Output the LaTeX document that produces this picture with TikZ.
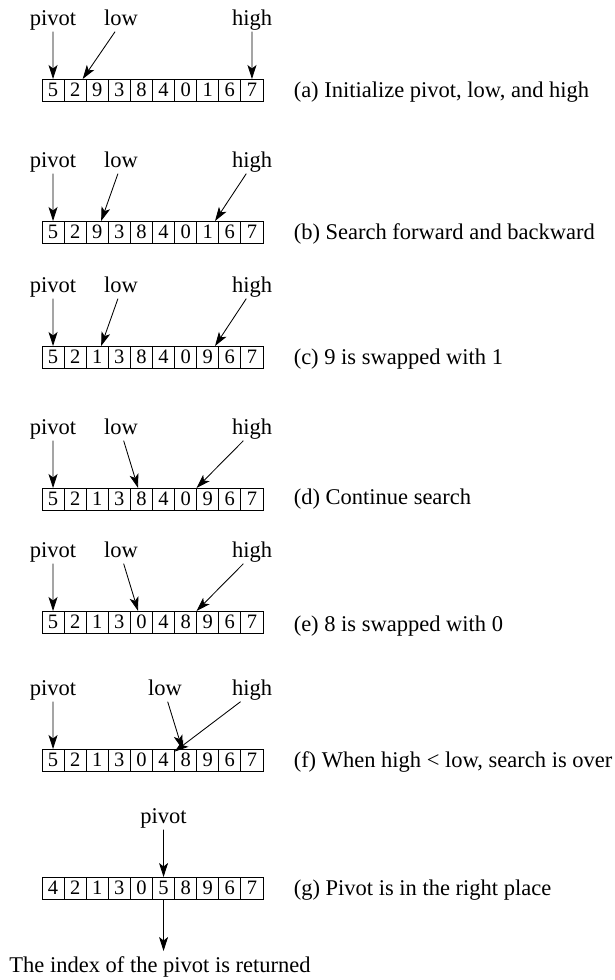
\documentclass[tikz,border=0pt]{standalone}
\usepackage{fontspec}
\setmainfont{Liberation Serif}
\usetikzlibrary{arrows.meta}

\begin{document}
\begin{tikzpicture}[x=1pt,y=-1pt,line width=0.85pt,
  font=\fontsize{22.5}{27}\selectfont,
  ptr/.style={-{Stealth[length=14pt,width=9pt,inset=3.5pt]}},
  cell/.style={draw,minimum width=22.1pt,minimum height=22pt,inner sep=0pt,
    outer sep=0pt,font=\fontsize{20.5}{24}\selectfont},
  tag/.style={inner sep=3.5pt,text height=0.7em,text depth=0.25em}]
\useasboundingbox (0,0) rectangle (614,980);
% ---------- (a) initial ----------
\foreach \v [count=\i from 0] in {5,2,9,3,8,4,0,1,6,7}
  \node[cell] (a\i) at (53.05+22.1*\i,90) {\v};
\node[tag] (pva) at (53,23) {pivot};
\node[tag] (lwa) at (121,23) {low};
\node[tag] (hga) at (252,23) {high};
\draw[ptr] (pva) -- (a0);
\draw[ptr] (lwa) -- (a1);
\draw[ptr] (hga) -- (a9);
\node[anchor=west] (capa) at (290,92) {(a) Initialize pivot, low, and high};
% ---------- (b) ----------
\foreach \v [count=\i from 0] in {5,2,9,3,8,4,0,1,6,7}
  \node[cell] (b\i) at (53.05+22.1*\i,232) {\v};
\node[tag] (pvb) at (53,165) {pivot};
\node[tag] (lwb) at (121,165) {low};
\node[tag] (hgb) at (252,165) {high};
\draw[ptr] (pvb) -- (b0);
\draw[ptr] (lwb) -- (b2);
\draw[ptr] (hgb) -- (b7);
\node[anchor=west] (capb) at (290,234) {(b) Search forward and backward};
% ---------- (c) ----------
\foreach \v [count=\i from 0] in {5,2,1,3,8,4,0,9,6,7}
  \node[cell] (c\i) at (53.05+22.1*\i,357) {\v};
\node[tag] (pvc) at (53,290) {pivot};
\node[tag] (lwc) at (121,290) {low};
\node[tag] (hgc) at (252,290) {high};
\draw[ptr] (pvc) -- (c0);
\draw[ptr] (lwc) -- (c2);
\draw[ptr] (hgc) -- (c7);
\node[anchor=west] (capc) at (290,359) {(c) 9 is swapped with 1};
% ---------- (d) ----------
\foreach \v [count=\i from 0] in {5,2,1,3,8,4,0,9,6,7}
  \node[cell] (d\i) at (53.05+22.1*\i,499) {\v};
\node[tag] (pvd) at (53,432) {pivot};
\node[tag] (lwd) at (121,432) {low};
\node[tag] (hgd) at (252,432) {high};
\draw[ptr] (pvd) -- (d0);
\draw[ptr] (lwd) -- (d4);
\draw[ptr] (hgd) -- (d6);
\node[anchor=west] (capd) at (290,499) {(d) Continue search};
% ---------- (e) ----------
\foreach \v [count=\i from 0] in {5,2,1,3,0,4,8,9,6,7}
  \node[cell] (e\i) at (53.05+22.1*\i,622) {\v};
\node[tag] (pve) at (53,555) {pivot};
\node[tag] (lwe) at (121,555) {low};
\node[tag] (hge) at (252,555) {high};
\draw[ptr] (pve) -- (e0);
\draw[ptr] (lwe) -- (e4);
\draw[ptr] (hge) -- (e6);
\node[anchor=west] (cape) at (290,626) {(e) 8 is swapped with 0};
% ---------- (f) ----------
\foreach \v [count=\i from 0] in {5,2,1,3,0,4,8,9,6,7}
  \node[cell] (f\i) at (53.05+22.1*\i,760) {\v};
\node[tag] (pvf) at (53,693) {pivot};
\node[tag] (lwf) at (165,693) {low};
\node[tag] (hgf) at (252,693) {high};
\draw[ptr] (pvf) -- (f0);
\draw[ptr] (lwf) -- (f6);
\draw[ptr] (hgf) -- (f5);
\node[anchor=west] (capf) at (290,762) {(f) When high < low, search is over};
% ---------- (g) ----------
\foreach \v [count=\i from 0] in {4,2,1,3,0,5,8,9,6,7}
  \node[cell] (g\i) at (53.05+22.1*\i,888) {\v};
\node[tag] (pvg) at (163.55,821) {pivot};
\draw[ptr] (pvg) -- (g5);
\node[anchor=west] (capg) at (290,890) {(g) Pivot is in the right place};
\node[anchor=north,inner sep=0pt] (ret) at (160,956) {The index of the pivot is returned};
\coordinate (rtip) at (163.55,951);
\draw[ptr] (g5) -- (rtip);
\end{tikzpicture}
\end{document}
